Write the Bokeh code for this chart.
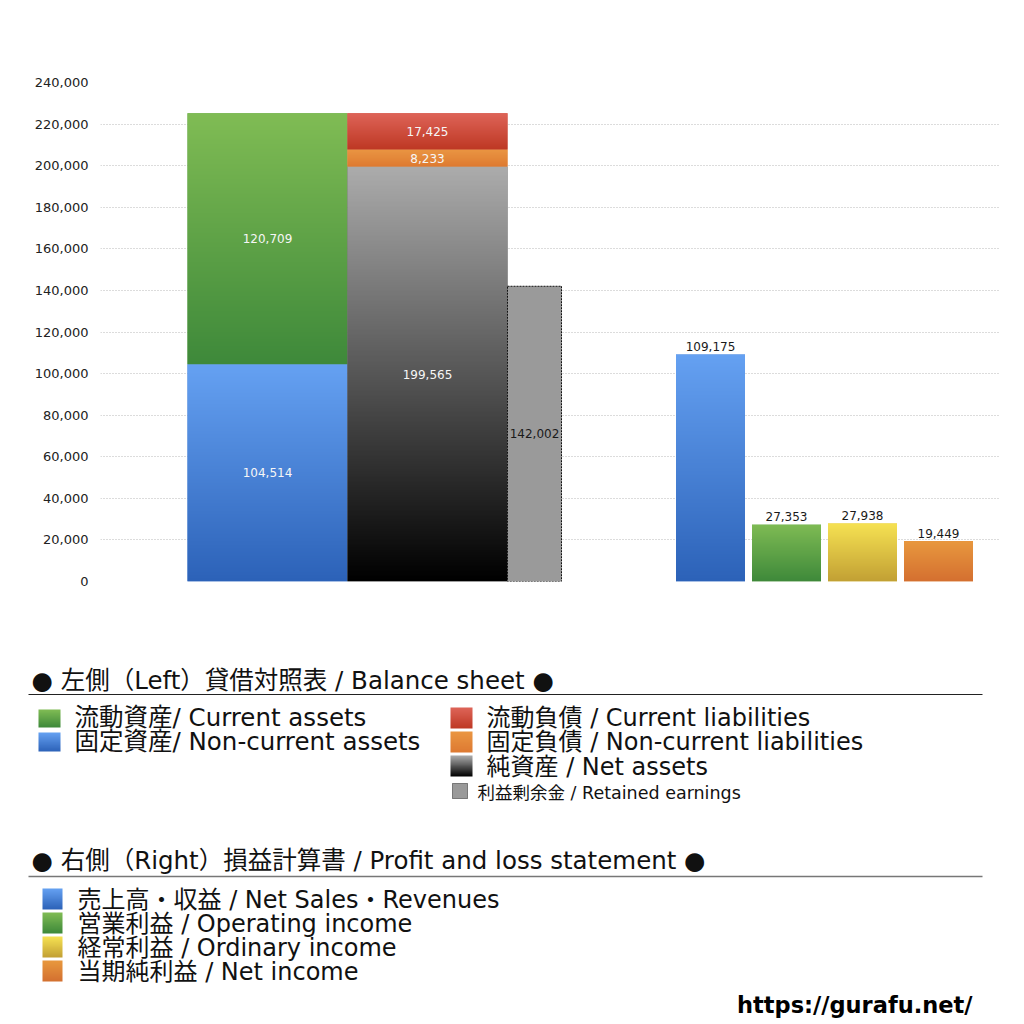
import numpy as np
from bokeh.plotting import figure
from bokeh.models import Range1d, FixedTicker, NumeralTickFormatter, ColumnDataSource
from bokeh.core.properties import value
from bokeh.embed import file_html
from bokeh.resources import INLINE

# ---------------- data ----------------
asset_names = ["固定資産/ Non-current assets", "流動資産/ Current assets"]
asset_values = [104514, 120709]
liab_names = ["純資産 / Net assets", "固定負債 / Non-current liabilities", "流動負債 /  Current liabilities"]
liab_values = [199565, 8233, 17425]
retained_name = "利益剰余金 / Retained earnings"
retained_value = 142002
pl_names = ["売上高・収益 / Net Sales・Revenues", "営業利益 / Operating income",
            "経常利益 / Ordinary income", "当期純利益 / Net income"]
pl_values = [109175, 27353, 27938, 19449]
y_ticks = [0, 20000, 40000, 60000, 80000, 100000, 120000, 140000,
           160000, 180000, 200000, 220000, 240000]
header_left = "● 左側（Left）貸借対照表 / Balance sheet ●"
header_right = "● 右側（Right）損益計算書 / Profit and loss statement ●"
site = "https://gurafu.net/"

# ---------------- styles ----------------
FONT = "DejaVu Sans, Noto Sans CJK JP"
G_BLUE = ((101, 161, 242), (44, 98, 184))
G_GREEN = ((128, 188, 84), (62, 137, 58))
G_RED = ((222, 100, 88), (190, 56, 36))
G_ORANGE_L = ((234, 150, 66), (222, 122, 50))
G_NET = ((172, 172, 172), (0, 0, 0))
G_YELLOW = ((246, 226, 82), (194, 160, 52))
G_ORANGE_R = ((232, 152, 62), (212, 112, 48))
asset_grads = [G_BLUE, G_GREEN]
liab_grads = [G_NET, G_ORANGE_L, G_RED]
pl_grads = [G_BLUE, G_GREEN, G_YELLOW, G_ORANGE_R]


def grad(g, n=256):
    top, bottom = g
    img = np.empty((n, 1), dtype=np.uint32)
    v = img.view(np.uint8).reshape((n, 1, 4))
    t = np.linspace(0.0, 1.0, n)[:, None]
    for k in range(3):
        v[:, :, k] = np.round(bottom[k] + (top[k] - bottom[k]) * t).astype(np.uint8)
    v[:, :, 3] = 255
    return img


def mid(g):
    top, bottom = g
    return "#%02x%02x%02x" % tuple((a + b) // 2 for a, b in zip(top, bottom))


# ---------------- chart ----------------
p = figure(width=1024, height=620, x_range=Range1d(0, 900), y_range=Range1d(0, 240000),
           x_axis_type=None, output_backend="svg", toolbar_location=None,
           min_border_left=100, min_border_right=24, min_border_top=82, min_border_bottom=39)
p.outline_line_color = None
p.background_fill_color = "white"
p.yaxis.ticker = FixedTicker(ticks=y_ticks)
p.yaxis.formatter = NumeralTickFormatter(format="0,0")
p.yaxis.axis_line_color = None
p.yaxis.major_tick_line_color = None
p.yaxis.minor_tick_line_color = None
p.yaxis.major_tick_out = 0
p.yaxis.major_label_standoff = 12
p.yaxis.major_label_text_font = FONT
p.yaxis.major_label_text_font_size = "13px"
p.yaxis.major_label_text_color = "#222222"
p.ygrid.grid_line_color = "#b8b8b8"
p.ygrid.grid_line_dash = "1 2"
p.ygrid.grid_line_width = 1

# layout constants (px units of the frame)
LEFT_X, MID_X, RE_X = 167, 327, 434
STACK_W, RE_W = 160, 54
PL_X0, PL_STEP, PL_W = 610, 76, 69


def stack(values, xc, w, grads):
    bottoms = np.concatenate([[0], np.cumsum(values)[:-1]])
    tops = np.cumsum(values)
    src = ColumnDataSource(dict(x=[xc] * len(values), bottom=bottoms, top=tops,
                                color=[mid(g) for g in grads],
                                label=[f"{v:,}" for v in values],
                                ymid=(bottoms + tops) / 2))
    p.vbar(x="x", width=w, bottom="bottom", top="top", fill_color="color",
           line_color=None, source=src)
    p.image_rgba(image=[grad(g) for g in grads], x=[xc - w / 2] * len(values),
                 y=list(bottoms), dw=[w] * len(values), dh=list(values))
    p.text(x="x", y="ymid", text="label", source=src, text_color="#f6f6f6",
           text_font=value(FONT), text_font_size="12px", text_align="center",
           text_baseline="middle")


stack(asset_values, LEFT_X, STACK_W, asset_grads)
stack(liab_values, MID_X, STACK_W, liab_grads)

# retained earnings
p.quad(left=[RE_X - RE_W / 2], right=[RE_X + RE_W / 2], bottom=[0], top=[retained_value],
       fill_color="#9a9a9a", line_color="#111111", line_dash="2 1", line_width=1)
p.text(x=[RE_X], y=[retained_value / 2], text=[f"{retained_value:,}"], text_color="#1a1a1a",
       text_font=value(FONT), text_font_size="12px", text_align="center",
       text_baseline="middle")

# P/L bars
pl_x = [PL_X0 + i * PL_STEP for i in range(len(pl_values))]
pl_src = ColumnDataSource(dict(x=pl_x, top=pl_values, color=[mid(g) for g in pl_grads],
                               label=[f"{v:,}" for v in pl_values]))
p.vbar(x="x", width=PL_W, top="top", bottom=0, fill_color="color", line_color=None,
       source=pl_src)
p.image_rgba(image=[grad(g) for g in pl_grads], x=[x - PL_W / 2 for x in pl_x],
             y=[0] * len(pl_x), dw=[PL_W] * len(pl_x), dh=pl_values)
p.text(x="x", y="top", text="label", source=pl_src, text_color="#1a1a1a",
       text_font=value(FONT), text_font_size="12px", text_align="center",
       text_baseline="middle", y_offset=-8)

# ---------------- legend panel ----------------
Y0, Y1 = 620, 1024
q = figure(width=1024, height=Y1 - Y0, x_range=Range1d(0, 1024), y_range=Range1d(Y0, Y1),
           x_axis_type=None, y_axis_type=None, output_backend="svg",
           toolbar_location=None, min_border=0)
q.outline_line_color = None


def sy(y):
    return Y0 + Y1 - y


def txt(x, y, s, size, color="#111111", style="normal", align="left"):
    q.text(x=[x], y=[sy(y)], text=[s], text_font=value(FONT), text_font_size=size,
           text_color=color, text_baseline="middle", text_align=align,
           text_font_style=style)


def swatch(x0, y0, w, h, g):
    q.image_rgba(image=[grad(g, 64)], x=[x0], y=[sy(y0 + h)], dw=[w], dh=[h])


ITEM = "24.5px"
# Balance sheet header
txt(31, 680, header_left, ITEM)
q.segment(x0=[28], y0=[sy(694)], x1=[982], y1=[sy(694)], line_color="#222222", line_width=1.2)

swatch(38, 709, 22, 18, asset_grads[1])
txt(74, 717, asset_names[1], ITEM)
swatch(38, 732, 22, 19, asset_grads[0])
txt(74, 741, asset_names[0], ITEM)

liab_rows = [2, 1, 0]
for r, i in enumerate(liab_rows):
    swatch(450, 707 + 24 * r, 22, 21, liab_grads[i])
    txt(486, 717 + 24.5 * r, liab_names[i], "24px")

q.quad(left=[452], right=[467], bottom=[sy(798)], top=[sy(783)], fill_color="#9a9a9a",
       line_color="#222222", line_dash="1 1", line_width=1)
txt(477, 792, retained_name, "17.5px")

# P/L header
txt(31, 860, header_right, ITEM)
q.segment(x0=[28], y0=[sy(876)], x1=[982], y1=[sy(876)], line_color="#777777", line_width=1.6)

for i, name in enumerate(pl_names):
    swatch(42, 888 + 24 * i, 20, 21, pl_grads[i])
    txt(77, 899 + 24 * i, name, "24px")

txt(972, 1004, site, "22.5px", color="#000000", style="bold", align="right")

open("out.html", "w").write(file_html([p, q], INLINE))
